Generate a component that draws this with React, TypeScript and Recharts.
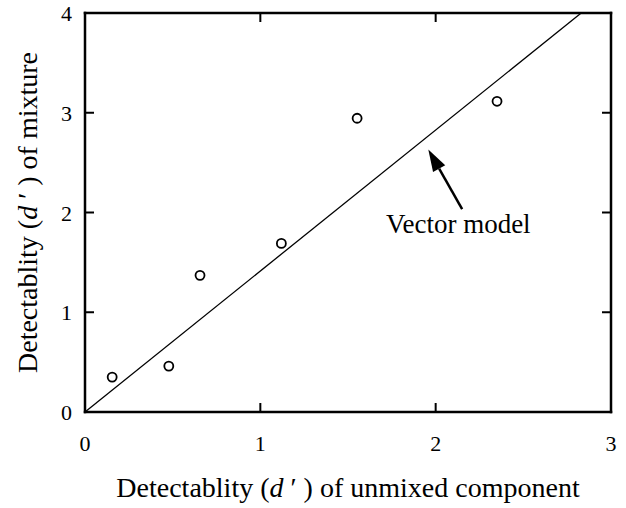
import React from 'react';
import { ScatterChart, Scatter, XAxis, YAxis, ReferenceLine, ReferenceDot } from 'recharts';

// measured data points: d' of unmixed component vs d' of mixture
const unmixedD = [0.155, 0.478, 0.656, 1.12, 1.552, 2.35];
const mixtureD = [0.35, 0.46, 1.37, 1.69, 2.945, 3.115];

// vector model line (slope ~ sqrt 2)
const modelX = [0, 2.83];
const modelY = [0, 4];

const xTicks = [0, 1, 2, 3];
const yTicks = [0, 1, 2, 3, 4];

// annotation anchors in data units
const arrowTail = { x: 2.151, y: 2.033 };
const arrowTip = { x: 1.958, y: 2.632 };
const noteAt = { x: 2.129, y: 1.883 };

const points = unmixedD.map((x, i) => ({ x, y: mixtureD[i] }));
const modelLine = modelX.map((x, i) => ({ x, y: modelY[i] }));

const FONT = '"Liberation Serif", "Times New Roman", Times, serif';
const serif = { fontFamily: FONT };
const TICK_LEN = 9;

const BottomTick = ({ x, y, payload }: any) => (
  <g>
    <line x1={x} x2={x} y1={y} y2={y - TICK_LEN} stroke="#000" strokeWidth={2} />
    <text x={x} y={y + 39} textAnchor="middle" style={serif} fontSize={22} fill="#000">
      {payload.value}
    </text>
  </g>
);

const TopTick = ({ x, y }: any) => (
  <line x1={x} x2={x} y1={y} y2={y + TICK_LEN} stroke="#000" strokeWidth={2} />
);

const LeftTick = ({ x, y, payload }: any) => (
  <g>
    <line x1={x} x2={x + TICK_LEN} y1={y} y2={y} stroke="#000" strokeWidth={2} />
    <text x={x - 13} y={y + 8} textAnchor="end" style={serif} fontSize={22} fill="#000">
      {payload.value}
    </text>
  </g>
);

const RightTick = ({ x, y }: any) => (
  <line x1={x} x2={x - TICK_LEN} y1={y} y2={y} stroke="#000" strokeWidth={2} />
);

const XTitle = ({ viewBox }: any) => (
  <text x={viewBox.x + viewBox.width / 2} y={viewBox.y + 85} textAnchor="middle" style={serif} fontSize={28} fill="#000">
    Detectablity (<tspan fontStyle="italic">d</tspan>{' \u2032 ) of unmixed component'}
  </text>
);

const YTitle = ({ viewBox }: any) => {
  const cx = 37;
  const cy = viewBox.y + viewBox.height / 2;
  return (
    <text x={cx} y={cy} transform={`rotate(-90 ${cx} ${cy})`} textAnchor="middle" style={serif} fontSize={28} fill="#000">
      Detectablity (<tspan fontStyle="italic">d</tspan>{' \u2032 ) of mixture'}
    </text>
  );
};

const Arrow = ({ x1, y1, x2, y2 }: any) => {
  const ang = Math.atan2(y2 - y1, x2 - x1);
  const len = 22;
  const half = 7;
  const bx = x2 - len * Math.cos(ang);
  const by = y2 - len * Math.sin(ang);
  const px = -Math.sin(ang) * half;
  const py = Math.cos(ang) * half;
  return (
    <g>
      <line x1={x1} y1={y1} x2={bx} y2={by} stroke="#000" strokeWidth={2.5} />
      <polygon points={`${x2},${y2} ${bx + px},${by + py} ${bx - px},${by - py}`} fill="#000" />
    </g>
  );
};

const NoteLabel = ({ viewBox }: any) => (
  <text x={viewBox.x + (viewBox.width || 0) / 2} y={viewBox.y + 9} textAnchor="middle" style={serif} fontSize={27} fill="#000">
    Vector model
  </text>
);

const axisLine = { stroke: '#000', strokeWidth: 2.5, strokeLinecap: 'square' as const };

export default function App() {
  return (
    <div style={{ position: 'absolute', left: 0, top: 0, width: 626, height: 508, background: '#fff' }}>
      <ScatterChart width={626} height={508} margin={{ top: 12, right: 14, bottom: 0, left: 0 }}>
        <XAxis
          type="number"
          dataKey="x"
          domain={[0, 3]}
          ticks={xTicks}
          interval={0}
          height={96}
          tickSize={0}
          tickMargin={0}
          tickLine={false}
          axisLine={axisLine}
          tick={<BottomTick />}
          label={{ content: <XTitle /> }}
        />
        <XAxis
          xAxisId="top"
          orientation="top"
          type="number"
          dataKey="x"
          domain={[0, 3]}
          ticks={xTicks}
          interval={0}
          height={1}
          tickSize={0}
          tickMargin={0}
          tickLine={false}
          axisLine={axisLine}
          tick={<TopTick />}
        />
        <YAxis
          type="number"
          dataKey="y"
          domain={[0, 4]}
          ticks={yTicks}
          interval={0}
          width={85}
          tickSize={0}
          tickMargin={0}
          tickLine={false}
          axisLine={axisLine}
          tick={<LeftTick />}
          label={{ content: <YTitle /> }}
        />
        <YAxis
          yAxisId="right"
          orientation="right"
          type="number"
          dataKey="y"
          domain={[0, 4]}
          ticks={yTicks}
          interval={0}
          width={1}
          tickSize={0}
          tickMargin={0}
          tickLine={false}
          axisLine={axisLine}
          tick={<RightTick />}
        />
        <Scatter
          data={modelLine}
          line={{ stroke: '#000', strokeWidth: 1.3 }}
          shape={() => null}
          isAnimationActive={false}
        />
        <Scatter
          data={points}
          xAxisId="top"
          yAxisId="right"
          shape={(p: any) => <circle cx={p.cx} cy={p.cy} r={4.5} fill="#fff" stroke="#000" strokeWidth={1.8} />}
          isAnimationActive={false}
        />
        <ReferenceLine
          segment={[arrowTail, arrowTip]}
          shape={<Arrow />}
          ifOverflow="visible"
        />
        <ReferenceDot
          x={noteAt.x}
          y={noteAt.y}
          r={0}
          fill="none"
          stroke="none"
          ifOverflow="visible"
          label={{ content: <NoteLabel /> }}
        />
      </ScatterChart>
    </div>
  );
}
